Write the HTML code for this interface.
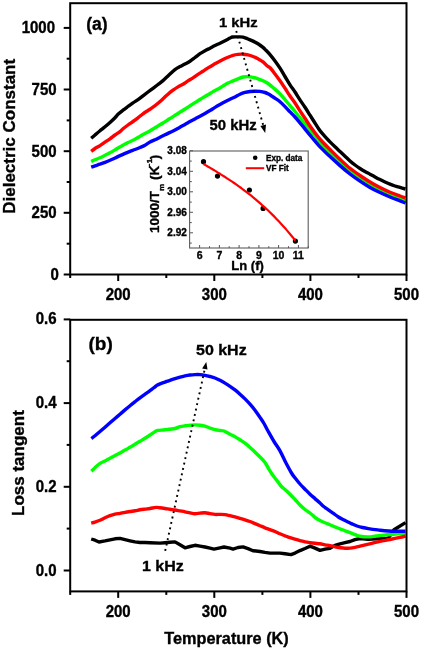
<!DOCTYPE html><html><head><meta charset="utf-8"><style>html,body{margin:0;padding:0;background:#fff;}svg{display:block;will-change:transform;}text{font-family:"Liberation Sans",sans-serif;font-weight:bold;fill:#000;stroke:#000;stroke-width:0.35px;}</style></head><body>
<svg width="422" height="650" viewBox="0 0 422 650">
<rect width="422" height="650" fill="#fff"/>
<path d="M91.20,138.20 C91.83,137.67 93.53,136.23 95.00,135.00 C96.47,133.77 98.33,132.17 100.00,130.80 C101.67,129.43 103.33,128.18 105.00,126.80 C106.67,125.42 108.33,124.00 110.00,122.50 C111.67,121.00 113.67,119.17 115.00,117.80 C116.33,116.43 116.67,115.57 118.00,114.30 C119.33,113.03 121.33,111.50 123.00,110.20 C124.67,108.90 126.33,107.72 128.00,106.50 C129.67,105.28 131.33,104.05 133.00,102.90 C134.67,101.75 136.33,100.78 138.00,99.60 C139.67,98.42 141.33,97.07 143.00,95.80 C144.67,94.53 146.33,93.25 148.00,92.00 C149.67,90.75 151.33,89.55 153.00,88.30 C154.67,87.05 156.33,85.78 158.00,84.50 C159.67,83.22 161.33,82.02 163.00,80.60 C164.67,79.18 166.33,77.55 168.00,76.00 C169.67,74.45 171.67,72.50 173.00,71.30 C174.33,70.10 174.83,69.58 176.00,68.80 C177.17,68.02 178.50,67.40 180.00,66.60 C181.50,65.80 183.33,64.90 185.00,64.00 C186.67,63.10 188.33,62.28 190.00,61.20 C191.67,60.12 193.33,58.75 195.00,57.50 C196.67,56.25 198.33,54.83 200.00,53.70 C201.67,52.57 203.33,51.62 205.00,50.70 C206.67,49.78 208.33,49.05 210.00,48.20 C211.67,47.35 213.33,46.43 215.00,45.60 C216.67,44.77 218.33,44.02 220.00,43.20 C221.67,42.38 223.33,41.55 225.00,40.70 C226.67,39.85 228.75,38.72 230.00,38.10 C231.25,37.48 231.17,37.20 232.50,37.00 C233.83,36.80 236.25,36.88 238.00,36.90 C239.75,36.92 241.33,36.75 243.00,37.10 C244.67,37.45 246.33,38.33 248.00,39.00 C249.67,39.67 251.33,40.30 253.00,41.10 C254.67,41.90 256.33,42.75 258.00,43.80 C259.67,44.85 261.67,46.32 263.00,47.40 C264.33,48.48 264.83,49.10 266.00,50.30 C267.17,51.50 268.50,52.82 270.00,54.60 C271.50,56.38 273.33,58.73 275.00,61.00 C276.67,63.27 278.33,65.62 280.00,68.20 C281.67,70.78 283.33,73.73 285.00,76.50 C286.67,79.27 288.33,82.22 290.00,84.80 C291.67,87.38 293.50,89.73 295.00,92.00 C296.50,94.27 297.33,95.85 299.00,98.40 C300.67,100.95 303.17,104.50 305.00,107.30 C306.83,110.10 308.50,112.83 310.00,115.20 C311.50,117.57 312.53,119.20 314.00,121.50 C315.47,123.80 317.47,127.05 318.80,129.00 C320.13,130.95 320.80,131.77 322.00,133.20 C323.20,134.63 324.67,136.15 326.00,137.60 C327.33,139.05 328.50,140.37 330.00,141.90 C331.50,143.43 333.33,145.20 335.00,146.80 C336.67,148.40 338.33,149.93 340.00,151.50 C341.67,153.07 343.33,154.62 345.00,156.20 C346.67,157.78 348.33,159.53 350.00,161.00 C351.67,162.47 353.33,163.75 355.00,165.00 C356.67,166.25 358.33,167.40 360.00,168.50 C361.67,169.60 363.33,170.65 365.00,171.60 C366.67,172.55 368.33,173.30 370.00,174.20 C371.67,175.10 373.33,176.10 375.00,177.00 C376.67,177.90 378.33,178.77 380.00,179.60 C381.67,180.43 383.33,181.23 385.00,182.00 C386.67,182.77 388.33,183.53 390.00,184.20 C391.67,184.87 393.33,185.47 395.00,186.00 C396.67,186.53 398.25,186.90 400.00,187.40 C401.75,187.90 404.58,188.73 405.50,189.00" fill="none" stroke="#000" stroke-width="3.4" stroke-linejoin="round" stroke-linecap="butt"/>
<path d="M91.20,161.50 C91.83,161.22 93.53,160.42 95.00,159.80 C96.47,159.18 98.33,158.55 100.00,157.80 C101.67,157.05 103.33,156.13 105.00,155.30 C106.67,154.47 108.33,153.70 110.00,152.80 C111.67,151.90 113.67,150.70 115.00,149.90 C116.33,149.10 116.67,148.77 118.00,148.00 C119.33,147.23 121.33,146.20 123.00,145.30 C124.67,144.40 126.33,143.43 128.00,142.60 C129.67,141.77 131.33,141.15 133.00,140.30 C134.67,139.45 136.33,138.45 138.00,137.50 C139.67,136.55 141.33,135.52 143.00,134.60 C144.67,133.68 146.33,132.93 148.00,132.00 C149.67,131.07 151.33,130.00 153.00,129.00 C154.67,128.00 156.33,127.00 158.00,126.00 C159.67,125.00 161.33,124.03 163.00,123.00 C164.67,121.97 166.33,120.87 168.00,119.80 C169.67,118.73 171.33,117.65 173.00,116.60 C174.67,115.55 176.33,114.55 178.00,113.50 C179.67,112.45 181.33,111.37 183.00,110.30 C184.67,109.23 186.33,108.17 188.00,107.10 C189.67,106.03 191.33,104.97 193.00,103.90 C194.67,102.83 196.33,101.75 198.00,100.70 C199.67,99.65 201.33,98.58 203.00,97.60 C204.67,96.62 206.33,95.80 208.00,94.80 C209.67,93.80 211.33,92.58 213.00,91.60 C214.67,90.62 216.33,89.83 218.00,88.90 C219.67,87.97 221.33,86.97 223.00,86.00 C224.67,85.03 226.33,83.95 228.00,83.10 C229.67,82.25 231.33,81.62 233.00,80.90 C234.67,80.18 236.33,79.45 238.00,78.80 C239.67,78.15 241.33,77.37 243.00,77.00 C244.67,76.63 246.33,76.55 248.00,76.60 C249.67,76.65 251.33,76.93 253.00,77.30 C254.67,77.67 256.33,78.22 258.00,78.80 C259.67,79.38 261.33,80.02 263.00,80.80 C264.67,81.58 266.17,82.23 268.00,83.50 C269.83,84.77 272.00,86.67 274.00,88.40 C276.00,90.13 278.17,92.03 280.00,93.90 C281.83,95.77 283.33,97.65 285.00,99.60 C286.67,101.55 288.33,103.62 290.00,105.60 C291.67,107.58 293.50,109.68 295.00,111.50 C296.50,113.32 297.00,114.00 299.00,116.50 C301.00,119.00 304.33,123.25 307.00,126.50 C309.67,129.75 312.17,132.62 315.00,136.00 C317.83,139.38 320.67,143.22 324.00,146.80 C327.33,150.38 330.67,153.38 335.00,157.50 C339.33,161.62 345.83,167.95 350.00,171.50 C354.17,175.05 356.67,176.50 360.00,178.80 C363.33,181.10 366.67,183.38 370.00,185.30 C373.33,187.22 376.67,188.72 380.00,190.30 C383.33,191.88 386.67,193.42 390.00,194.80 C393.33,196.18 397.42,197.60 400.00,198.60 C402.58,199.60 404.58,200.43 405.50,200.80" fill="none" stroke="#00ff00" stroke-width="3.4" stroke-linejoin="round" stroke-linecap="butt"/>
<path d="M91.20,151.30 C91.83,150.83 93.53,149.45 95.00,148.50 C96.47,147.55 98.33,146.65 100.00,145.60 C101.67,144.55 103.33,143.33 105.00,142.20 C106.67,141.07 108.33,140.00 110.00,138.80 C111.67,137.60 113.33,136.20 115.00,135.00 C116.67,133.80 118.67,132.63 120.00,131.60 C121.33,130.57 121.67,129.90 123.00,128.80 C124.33,127.70 126.33,126.22 128.00,125.00 C129.67,123.78 131.33,122.70 133.00,121.50 C134.67,120.30 136.33,119.08 138.00,117.80 C139.67,116.52 141.33,115.02 143.00,113.80 C144.67,112.58 146.33,111.60 148.00,110.50 C149.67,109.40 151.33,108.42 153.00,107.20 C154.67,105.98 156.33,104.60 158.00,103.20 C159.67,101.80 161.33,100.30 163.00,98.80 C164.67,97.30 166.33,95.63 168.00,94.20 C169.67,92.77 171.33,91.42 173.00,90.20 C174.67,88.98 176.33,87.90 178.00,86.90 C179.67,85.90 181.33,85.20 183.00,84.20 C184.67,83.20 186.33,81.97 188.00,80.90 C189.67,79.83 191.33,78.90 193.00,77.80 C194.67,76.70 196.33,75.40 198.00,74.30 C199.67,73.20 201.33,72.27 203.00,71.20 C204.67,70.13 206.33,68.95 208.00,67.90 C209.67,66.85 211.33,65.85 213.00,64.90 C214.67,63.95 216.33,63.10 218.00,62.20 C219.67,61.30 221.33,60.33 223.00,59.50 C224.67,58.67 226.33,57.90 228.00,57.20 C229.67,56.50 231.33,55.77 233.00,55.30 C234.67,54.83 236.33,54.58 238.00,54.40 C239.67,54.22 241.33,54.12 243.00,54.20 C244.67,54.28 246.33,54.52 248.00,54.90 C249.67,55.28 251.33,55.85 253.00,56.50 C254.67,57.15 256.33,57.92 258.00,58.80 C259.67,59.68 261.50,60.63 263.00,61.80 C264.50,62.97 265.83,64.80 267.00,65.80 C268.17,66.80 268.67,66.43 270.00,67.80 C271.33,69.17 273.33,71.83 275.00,74.00 C276.67,76.17 278.33,78.42 280.00,80.80 C281.67,83.18 283.33,85.77 285.00,88.30 C286.67,90.83 288.33,93.55 290.00,96.00 C291.67,98.45 293.50,100.77 295.00,103.00 C296.50,105.23 297.33,106.85 299.00,109.40 C300.67,111.95 303.17,115.53 305.00,118.30 C306.83,121.07 307.83,122.92 310.00,126.00 C312.17,129.08 315.67,133.88 318.00,136.80 C320.33,139.72 322.00,141.38 324.00,143.50 C326.00,145.62 327.33,146.87 330.00,149.50 C332.67,152.13 336.67,156.17 340.00,159.30 C343.33,162.43 346.67,165.60 350.00,168.30 C353.33,171.00 356.67,173.22 360.00,175.50 C363.33,177.78 366.67,179.98 370.00,182.00 C373.33,184.02 376.67,185.88 380.00,187.60 C383.33,189.32 386.67,190.90 390.00,192.30 C393.33,193.70 397.42,195.08 400.00,196.00 C402.58,196.92 404.58,197.50 405.50,197.80" fill="none" stroke="#ff0000" stroke-width="3.4" stroke-linejoin="round" stroke-linecap="butt"/>
<path d="M91.20,167.20 C91.83,166.97 93.53,166.30 95.00,165.80 C96.47,165.30 98.33,164.77 100.00,164.20 C101.67,163.63 103.33,163.05 105.00,162.40 C106.67,161.75 108.33,161.03 110.00,160.30 C111.67,159.57 113.33,158.78 115.00,158.00 C116.67,157.22 118.33,156.37 120.00,155.60 C121.67,154.83 123.33,154.12 125.00,153.40 C126.67,152.68 128.33,151.95 130.00,151.30 C131.67,150.65 133.33,150.13 135.00,149.50 C136.67,148.87 138.33,148.22 140.00,147.50 C141.67,146.78 143.33,146.12 145.00,145.20 C146.67,144.28 148.33,142.90 150.00,142.00 C151.67,141.10 153.33,140.58 155.00,139.80 C156.67,139.02 158.33,138.13 160.00,137.30 C161.67,136.47 163.33,135.62 165.00,134.80 C166.67,133.98 168.33,133.22 170.00,132.40 C171.67,131.58 173.33,130.77 175.00,129.90 C176.67,129.03 178.33,128.10 180.00,127.20 C181.67,126.30 183.33,125.43 185.00,124.50 C186.67,123.57 188.33,122.53 190.00,121.60 C191.67,120.67 193.33,119.80 195.00,118.90 C196.67,118.00 198.33,117.12 200.00,116.20 C201.67,115.28 203.33,114.35 205.00,113.40 C206.67,112.45 208.33,111.50 210.00,110.50 C211.67,109.50 213.33,108.40 215.00,107.40 C216.67,106.40 218.33,105.43 220.00,104.50 C221.67,103.57 223.33,102.67 225.00,101.80 C226.67,100.93 228.33,100.12 230.00,99.30 C231.67,98.48 233.33,97.75 235.00,96.90 C236.67,96.05 238.33,94.95 240.00,94.20 C241.67,93.45 243.33,92.85 245.00,92.40 C246.67,91.95 248.33,91.70 250.00,91.50 C251.67,91.30 253.33,91.22 255.00,91.20 C256.67,91.18 258.33,91.18 260.00,91.40 C261.67,91.62 263.67,92.10 265.00,92.50 C266.33,92.90 266.83,93.18 268.00,93.80 C269.17,94.42 270.67,95.37 272.00,96.20 C273.33,97.03 274.67,97.87 276.00,98.80 C277.33,99.73 278.50,100.50 280.00,101.80 C281.50,103.10 283.33,104.92 285.00,106.60 C286.67,108.28 288.33,110.17 290.00,111.90 C291.67,113.63 293.33,115.18 295.00,117.00 C296.67,118.82 297.17,119.38 300.00,122.80 C302.83,126.22 308.67,133.50 312.00,137.50 C315.33,141.50 317.00,143.63 320.00,146.80 C323.00,149.97 326.67,153.37 330.00,156.50 C333.33,159.63 336.67,162.68 340.00,165.60 C343.33,168.52 346.67,171.40 350.00,174.00 C353.33,176.60 356.67,178.95 360.00,181.20 C363.33,183.45 366.67,185.62 370.00,187.50 C373.33,189.38 376.67,190.92 380.00,192.50 C383.33,194.08 386.67,195.60 390.00,197.00 C393.33,198.40 397.42,199.90 400.00,200.90 C402.58,201.90 404.58,202.65 405.50,203.00" fill="none" stroke="#0000ff" stroke-width="3.4" stroke-linejoin="round" stroke-linecap="butt"/>
<polyline points="91.2,539.0 95.0,540.2 99.0,542.0 105.0,540.9 110.0,539.8 115.0,538.8 120.0,538.4 125.0,539.6 130.0,540.8 135.0,541.9 140.0,542.5 145.0,542.5 150.0,542.7 160.0,543.1 165.0,542.7 170.0,542.3 175.0,541.9 180.0,544.8 185.0,547.8 190.0,546.5 195.0,545.3 200.0,546.1 205.0,547.0 210.0,548.2 214.0,549.1 220.0,547.8 224.0,547.0 230.0,548.2 233.0,549.1 238.0,547.5 243.0,546.9 248.0,548.6 253.0,550.7 260.0,551.5 265.0,552.4 270.0,553.1 280.0,553.1 285.0,553.8 291.0,554.6 295.0,553.1 300.0,550.6 305.0,548.5 310.0,546.2 315.0,548.1 320.0,550.4 325.0,549.2 330.0,548.3 335.0,545.4 340.0,543.8 345.0,542.7 350.0,541.5 355.0,539.6 360.0,538.5 368.3,539.3 380.0,538.5 388.4,538.1 394.0,529.8 405.5,522.6" fill="none" stroke="#000" stroke-width="3.4" stroke-linejoin="round" stroke-linecap="butt"/>
<path d="M91.40,471.20 C92.00,470.62 93.57,469.00 95.00,467.70 C96.43,466.40 98.33,464.53 100.00,463.40 C101.67,462.27 103.33,461.75 105.00,460.90 C106.67,460.05 108.33,459.18 110.00,458.30 C111.67,457.42 113.33,456.50 115.00,455.60 C116.67,454.70 118.33,453.82 120.00,452.90 C121.67,451.98 123.33,451.05 125.00,450.10 C126.67,449.15 128.33,448.17 130.00,447.20 C131.67,446.23 133.33,445.28 135.00,444.30 C136.67,443.32 138.33,442.32 140.00,441.30 C141.67,440.28 143.33,439.25 145.00,438.20 C146.67,437.15 148.33,436.10 150.00,435.00 C151.67,433.90 153.75,432.37 155.00,431.60 C156.25,430.83 155.83,430.70 157.50,430.40 C159.17,430.10 162.08,430.12 165.00,429.80 C167.92,429.48 172.50,429.02 175.00,428.50 C177.50,427.98 178.33,427.15 180.00,426.70 C181.67,426.25 183.33,426.03 185.00,425.80 C186.67,425.57 188.33,425.45 190.00,425.30 C191.67,425.15 193.33,424.90 195.00,424.90 C196.67,424.90 198.33,425.08 200.00,425.30 C201.67,425.52 203.33,425.75 205.00,426.20 C206.67,426.65 208.33,427.43 210.00,428.00 C211.67,428.57 213.33,429.18 215.00,429.60 C216.67,430.02 218.50,430.27 220.00,430.50 C221.50,430.73 222.33,430.38 224.00,431.00 C225.67,431.62 228.17,433.25 230.00,434.20 C231.83,435.15 233.33,435.77 235.00,436.70 C236.67,437.63 238.33,438.72 240.00,439.80 C241.67,440.88 243.33,441.93 245.00,443.20 C246.67,444.47 248.33,445.92 250.00,447.40 C251.67,448.88 253.33,450.50 255.00,452.10 C256.67,453.70 258.33,455.28 260.00,457.00 C261.67,458.72 263.50,460.35 265.00,462.40 C266.50,464.45 267.67,467.12 269.00,469.30 C270.33,471.48 271.50,473.40 273.00,475.50 C274.50,477.60 276.58,480.07 278.00,481.90 C279.42,483.73 280.33,485.23 281.50,486.50 C282.67,487.77 283.58,488.22 285.00,489.50 C286.42,490.78 288.33,492.53 290.00,494.20 C291.67,495.87 293.33,497.70 295.00,499.50 C296.67,501.30 298.33,503.33 300.00,505.00 C301.67,506.67 303.33,508.17 305.00,509.50 C306.67,510.83 308.33,511.70 310.00,513.00 C311.67,514.30 313.33,516.03 315.00,517.30 C316.67,518.57 318.33,519.68 320.00,520.60 C321.67,521.52 323.33,522.10 325.00,522.80 C326.67,523.50 328.33,524.12 330.00,524.80 C331.67,525.48 333.33,526.23 335.00,526.90 C336.67,527.57 338.33,528.15 340.00,528.80 C341.67,529.45 343.33,530.15 345.00,530.80 C346.67,531.45 348.33,532.07 350.00,532.70 C351.67,533.33 353.33,534.00 355.00,534.60 C356.67,535.20 357.78,535.92 360.00,536.30 C362.22,536.68 365.63,536.95 368.30,536.90 C370.97,536.85 373.43,536.30 376.00,536.00 C378.57,535.70 380.45,535.43 383.70,535.10 C386.95,534.77 391.87,534.28 395.50,534.00 C399.13,533.72 403.83,533.50 405.50,533.40" fill="none" stroke="#00ff00" stroke-width="3.4" stroke-linejoin="round" stroke-linecap="butt"/>
<path d="M91.20,523.10 C91.83,522.93 93.53,522.57 95.00,522.10 C96.47,521.63 98.33,521.02 100.00,520.30 C101.67,519.58 103.33,518.57 105.00,517.80 C106.67,517.03 108.33,516.30 110.00,515.70 C111.67,515.10 113.33,514.60 115.00,514.20 C116.67,513.80 118.33,513.62 120.00,513.30 C121.67,512.98 123.33,512.60 125.00,512.30 C126.67,512.00 128.33,511.75 130.00,511.50 C131.67,511.25 133.33,511.08 135.00,510.80 C136.67,510.52 138.33,510.08 140.00,509.80 C141.67,509.52 143.33,509.32 145.00,509.10 C146.67,508.88 148.17,508.78 150.00,508.50 C151.83,508.22 154.33,507.52 156.00,507.40 C157.67,507.28 158.50,507.62 160.00,507.80 C161.50,507.98 163.33,508.25 165.00,508.50 C166.67,508.75 168.33,509.05 170.00,509.30 C171.67,509.55 173.33,509.73 175.00,510.00 C176.67,510.27 178.33,510.60 180.00,510.90 C181.67,511.20 183.33,511.47 185.00,511.80 C186.67,512.13 188.33,512.58 190.00,512.90 C191.67,513.22 193.33,513.67 195.00,513.70 C196.67,513.73 198.33,513.27 200.00,513.10 C201.67,512.93 203.33,512.62 205.00,512.70 C206.67,512.78 208.33,513.32 210.00,513.60 C211.67,513.88 213.33,514.27 215.00,514.40 C216.67,514.53 218.33,514.37 220.00,514.40 C221.67,514.43 223.33,514.38 225.00,514.60 C226.67,514.82 228.33,515.32 230.00,515.70 C231.67,516.08 233.33,516.47 235.00,516.90 C236.67,517.33 238.33,517.82 240.00,518.30 C241.67,518.78 243.33,519.27 245.00,519.80 C246.67,520.33 248.33,520.87 250.00,521.50 C251.67,522.13 253.33,522.90 255.00,523.60 C256.67,524.30 258.33,525.00 260.00,525.70 C261.67,526.40 263.33,527.15 265.00,527.80 C266.67,528.45 268.33,528.98 270.00,529.60 C271.67,530.22 273.33,530.80 275.00,531.50 C276.67,532.20 278.33,533.08 280.00,533.80 C281.67,534.52 283.33,535.15 285.00,535.80 C286.67,536.45 288.33,537.13 290.00,537.70 C291.67,538.27 293.33,538.72 295.00,539.20 C296.67,539.68 298.33,540.15 300.00,540.60 C301.67,541.05 303.33,541.55 305.00,541.90 C306.67,542.25 308.33,542.47 310.00,542.70 C311.67,542.93 313.33,543.12 315.00,543.30 C316.67,543.48 318.33,543.55 320.00,543.80 C321.67,544.05 323.33,544.50 325.00,544.80 C326.67,545.10 328.33,545.27 330.00,545.60 C331.67,545.93 333.33,546.45 335.00,546.80 C336.67,547.15 338.33,547.45 340.00,547.70 C341.67,547.95 343.33,548.23 345.00,548.30 C346.67,548.37 348.33,548.27 350.00,548.10 C351.67,547.93 353.33,547.62 355.00,547.30 C356.67,546.98 357.20,546.85 360.00,546.20 C362.80,545.55 368.47,544.22 371.80,543.40 C375.13,542.58 376.97,541.95 380.00,541.30 C383.03,540.65 386.67,540.15 390.00,539.50 C393.33,538.85 397.42,537.98 400.00,537.40 C402.58,536.82 404.58,536.23 405.50,536.00" fill="none" stroke="#ff0000" stroke-width="3.4" stroke-linejoin="round" stroke-linecap="butt"/>
<path d="M91.40,438.60 C92.00,438.12 93.57,436.88 95.00,435.70 C96.43,434.52 98.33,432.92 100.00,431.50 C101.67,430.08 103.33,428.65 105.00,427.20 C106.67,425.75 108.33,424.25 110.00,422.80 C111.67,421.35 113.33,419.93 115.00,418.50 C116.67,417.07 118.33,415.63 120.00,414.20 C121.67,412.77 123.33,411.32 125.00,409.90 C126.67,408.48 128.33,407.07 130.00,405.70 C131.67,404.33 133.33,403.02 135.00,401.70 C136.67,400.38 138.33,399.05 140.00,397.80 C141.67,396.55 143.33,395.38 145.00,394.20 C146.67,393.02 148.33,391.93 150.00,390.70 C151.67,389.47 153.83,387.70 155.00,386.80 C156.17,385.90 156.17,385.78 157.00,385.30 C157.83,384.82 158.67,384.43 160.00,383.90 C161.33,383.37 163.33,382.70 165.00,382.10 C166.67,381.50 168.33,380.88 170.00,380.30 C171.67,379.72 173.33,379.12 175.00,378.60 C176.67,378.08 178.33,377.65 180.00,377.20 C181.67,376.75 183.33,376.27 185.00,375.90 C186.67,375.53 188.33,375.22 190.00,375.00 C191.67,374.78 193.33,374.67 195.00,374.60 C196.67,374.53 198.33,374.48 200.00,374.60 C201.67,374.72 203.33,374.98 205.00,375.30 C206.67,375.62 208.33,376.05 210.00,376.50 C211.67,376.95 213.33,377.37 215.00,378.00 C216.67,378.63 218.33,379.45 220.00,380.30 C221.67,381.15 223.33,382.10 225.00,383.10 C226.67,384.10 228.33,385.17 230.00,386.30 C231.67,387.43 233.33,388.58 235.00,389.90 C236.67,391.22 238.33,392.70 240.00,394.20 C241.67,395.70 243.33,397.23 245.00,398.90 C246.67,400.57 248.33,402.30 250.00,404.20 C251.67,406.10 253.33,408.10 255.00,410.30 C256.67,412.50 258.50,415.20 260.00,417.40 C261.50,419.60 262.67,421.23 264.00,423.50 C265.33,425.77 266.33,428.00 268.00,431.00 C269.67,434.00 272.00,438.20 274.00,441.50 C276.00,444.80 278.08,447.38 280.00,450.80 C281.92,454.22 283.58,458.30 285.50,462.00 C287.42,465.70 289.92,470.37 291.50,473.00 C293.08,475.63 293.58,475.97 295.00,477.80 C296.42,479.63 298.33,482.10 300.00,484.00 C301.67,485.90 303.33,487.50 305.00,489.20 C306.67,490.90 308.33,492.63 310.00,494.20 C311.67,495.77 313.33,497.13 315.00,498.60 C316.67,500.07 318.67,501.77 320.00,503.00 C321.33,504.23 321.67,504.90 323.00,506.00 C324.33,507.10 326.33,508.42 328.00,509.60 C329.67,510.78 331.33,511.92 333.00,513.10 C334.67,514.28 336.33,515.63 338.00,516.70 C339.67,517.77 341.33,518.62 343.00,519.50 C344.67,520.38 346.50,521.27 348.00,522.00 C349.50,522.73 350.50,523.23 352.00,523.90 C353.50,524.57 355.23,525.40 357.00,526.00 C358.77,526.60 360.72,527.07 362.60,527.50 C364.48,527.93 365.77,528.20 368.30,528.60 C370.83,529.00 374.45,529.50 377.80,529.90 C381.15,530.30 383.78,530.77 388.40,531.00 C393.02,531.23 402.65,531.25 405.50,531.30" fill="none" stroke="#0000ff" stroke-width="3.4" stroke-linejoin="round" stroke-linecap="butt"/>
<rect x="70.2" y="3.2" width="336.3" height="271.3" fill="none" stroke="#000" stroke-width="2"/>
<line x1="118.2" y1="274.5" x2="118.2" y2="281.0" stroke="#000" stroke-width="2"/>
<line x1="214.3" y1="274.5" x2="214.3" y2="281.0" stroke="#000" stroke-width="2"/>
<line x1="310.4" y1="274.5" x2="310.4" y2="281.0" stroke="#000" stroke-width="2"/>
<line x1="406.5" y1="274.5" x2="406.5" y2="281.0" stroke="#000" stroke-width="2"/>
<line x1="70.2" y1="274.5" x2="70.2" y2="278.0" stroke="#000" stroke-width="2"/>
<line x1="166.3" y1="274.5" x2="166.3" y2="278.0" stroke="#000" stroke-width="2"/>
<line x1="262.4" y1="274.5" x2="262.4" y2="278.0" stroke="#000" stroke-width="2"/>
<line x1="358.5" y1="274.5" x2="358.5" y2="278.0" stroke="#000" stroke-width="2"/>
<text transform="translate(118.2,300.1) scale(1,1.07)" font-size="15" text-anchor="middle">200</text>
<text transform="translate(214.3,300.1) scale(1,1.07)" font-size="15" text-anchor="middle">300</text>
<text transform="translate(310.4,300.1) scale(1,1.07)" font-size="15" text-anchor="middle">400</text>
<text transform="translate(406.5,300.1) scale(1,1.07)" font-size="15" text-anchor="middle">500</text>
<rect x="70.2" y="319.8" width="336.3" height="271.59999999999997" fill="none" stroke="#000" stroke-width="2"/>
<line x1="118.2" y1="591.4" x2="118.2" y2="597.9" stroke="#000" stroke-width="2"/>
<line x1="214.3" y1="591.4" x2="214.3" y2="597.9" stroke="#000" stroke-width="2"/>
<line x1="310.4" y1="591.4" x2="310.4" y2="597.9" stroke="#000" stroke-width="2"/>
<line x1="406.5" y1="591.4" x2="406.5" y2="597.9" stroke="#000" stroke-width="2"/>
<line x1="70.2" y1="591.4" x2="70.2" y2="594.9" stroke="#000" stroke-width="2"/>
<line x1="166.3" y1="591.4" x2="166.3" y2="594.9" stroke="#000" stroke-width="2"/>
<line x1="262.4" y1="591.4" x2="262.4" y2="594.9" stroke="#000" stroke-width="2"/>
<line x1="358.5" y1="591.4" x2="358.5" y2="594.9" stroke="#000" stroke-width="2"/>
<text transform="translate(118.2,617.0) scale(1,1.07)" font-size="15" text-anchor="middle">200</text>
<text transform="translate(214.3,617.0) scale(1,1.07)" font-size="15" text-anchor="middle">300</text>
<text transform="translate(310.4,617.0) scale(1,1.07)" font-size="15" text-anchor="middle">400</text>
<text transform="translate(406.5,617.0) scale(1,1.07)" font-size="15" text-anchor="middle">500</text>
<line x1="63.7" y1="274.5" x2="70.2" y2="274.5" stroke="#000" stroke-width="2"/>
<text transform="translate(58.8,280.0) scale(1,1.07)" font-size="15" text-anchor="end">0</text>
<line x1="63.7" y1="212.8" x2="70.2" y2="212.8" stroke="#000" stroke-width="2"/>
<text transform="translate(56.6,218.3) scale(1,1.07)" font-size="15" text-anchor="end">250</text>
<line x1="63.7" y1="151.2" x2="70.2" y2="151.2" stroke="#000" stroke-width="2"/>
<text transform="translate(56.6,156.7) scale(1,1.07)" font-size="15" text-anchor="end">500</text>
<line x1="63.7" y1="89.5" x2="70.2" y2="89.5" stroke="#000" stroke-width="2"/>
<text transform="translate(56.6,95.0) scale(1,1.07)" font-size="15" text-anchor="end">750</text>
<line x1="63.7" y1="27.9" x2="70.2" y2="27.9" stroke="#000" stroke-width="2"/>
<text transform="translate(55.0,33.4) scale(1,1.07)" font-size="15" text-anchor="end">1000</text>
<line x1="66.7" y1="243.7" x2="70.2" y2="243.7" stroke="#000" stroke-width="2"/>
<line x1="66.7" y1="182.0" x2="70.2" y2="182.0" stroke="#000" stroke-width="2"/>
<line x1="66.7" y1="120.4" x2="70.2" y2="120.4" stroke="#000" stroke-width="2"/>
<line x1="66.7" y1="58.7" x2="70.2" y2="58.7" stroke="#000" stroke-width="2"/>
<line x1="63.7" y1="570.5" x2="70.2" y2="570.5" stroke="#000" stroke-width="2"/>
<text transform="translate(56.6,575.5) scale(1,1.07)" font-size="15" text-anchor="end">0.0</text>
<line x1="63.7" y1="486.8" x2="70.2" y2="486.8" stroke="#000" stroke-width="2"/>
<text transform="translate(56.6,491.8) scale(1,1.07)" font-size="15" text-anchor="end">0.2</text>
<line x1="63.7" y1="403.1" x2="70.2" y2="403.1" stroke="#000" stroke-width="2"/>
<text transform="translate(56.6,408.1) scale(1,1.07)" font-size="15" text-anchor="end">0.4</text>
<line x1="63.7" y1="319.4" x2="70.2" y2="319.4" stroke="#000" stroke-width="2"/>
<text transform="translate(56.6,324.4) scale(1,1.07)" font-size="15" text-anchor="end">0.6</text>
<line x1="66.7" y1="528.6" x2="70.2" y2="528.6" stroke="#000" stroke-width="2"/>
<line x1="66.7" y1="444.9" x2="70.2" y2="444.9" stroke="#000" stroke-width="2"/>
<line x1="66.7" y1="361.2" x2="70.2" y2="361.2" stroke="#000" stroke-width="2"/>
<text transform="translate(15,136.3) rotate(-90)" font-size="17" text-anchor="middle">Dielectric Constant</text>
<text transform="translate(24.1,463.1) rotate(-90)" font-size="17" text-anchor="middle">Loss tangent</text>
<text x="226.5" y="643.5" font-size="16.3" text-anchor="middle">Temperature (K)</text>
<text x="86.3" y="30.2" font-size="17.5">(a)</text>
<text x="88.5" y="350.2" font-size="19">(b)</text>
<text transform="translate(219,27.1) scale(1,0.92)" font-size="14.8">1 kHz</text>
<text transform="translate(209.5,129.9) scale(1,0.93)" font-size="14.9">50 kHz</text>
<line x1="236.24" y1="30.89" x2="263.16" y2="125.00" stroke="#000" stroke-width="1.9" stroke-dasharray="1.90 3.737"/>
<polygon points="260.4,126.0 266.0,124.4 265.2,133.0" fill="#000"/>
<text transform="translate(196,355.3) scale(1,0.92)" font-size="16">50 kHz</text>
<text transform="translate(142,571.1) scale(1,0.92)" font-size="16">1 kHz</text>
<line x1="165.20" y1="550.83" x2="204.67" y2="369.50" stroke="#000" stroke-width="1.9" stroke-dasharray="1.90 3.626"/>
<polygon points="202.1,368.4 207.5,369.6 206.3,361.9" fill="#000"/>
<rect x="189.6" y="151.0" width="118.6" height="97.0" fill="#fff" stroke="#5c5c5c" stroke-width="1.1"/>
<line x1="190" y1="150.8" x2="193" y2="150.8" stroke="#555" stroke-width="1"/>
<text x="186.8" y="154.4" font-size="10" text-anchor="end">3.08</text>
<line x1="190" y1="171.3" x2="193" y2="171.3" stroke="#555" stroke-width="1"/>
<text x="186.8" y="174.9" font-size="10" text-anchor="end">3.04</text>
<line x1="190" y1="191.8" x2="193" y2="191.8" stroke="#555" stroke-width="1"/>
<text x="186.8" y="195.4" font-size="10" text-anchor="end">3.00</text>
<line x1="190" y1="212.3" x2="193" y2="212.3" stroke="#555" stroke-width="1"/>
<text x="186.8" y="215.9" font-size="10" text-anchor="end">2.96</text>
<line x1="190" y1="232.8" x2="193" y2="232.8" stroke="#555" stroke-width="1"/>
<text x="186.8" y="236.4" font-size="10" text-anchor="end">2.92</text>
<line x1="190" y1="161.1" x2="191.8" y2="161.1" stroke="#555" stroke-width="1"/>
<line x1="190" y1="181.6" x2="191.8" y2="181.6" stroke="#555" stroke-width="1"/>
<line x1="190" y1="202.1" x2="191.8" y2="202.1" stroke="#555" stroke-width="1"/>
<line x1="190" y1="222.6" x2="191.8" y2="222.6" stroke="#555" stroke-width="1"/>
<line x1="190" y1="243.1" x2="191.8" y2="243.1" stroke="#555" stroke-width="1"/>
<line x1="199.6" y1="248" x2="199.6" y2="245" stroke="#555" stroke-width="1"/>
<text x="199.6" y="258.6" font-size="10.5" text-anchor="middle">6</text>
<line x1="219.4" y1="248" x2="219.4" y2="245" stroke="#555" stroke-width="1"/>
<text x="219.4" y="258.6" font-size="10.5" text-anchor="middle">7</text>
<line x1="239.1" y1="248" x2="239.1" y2="245" stroke="#555" stroke-width="1"/>
<text x="239.1" y="258.6" font-size="10.5" text-anchor="middle">8</text>
<line x1="258.9" y1="248" x2="258.9" y2="245" stroke="#555" stroke-width="1"/>
<text x="258.9" y="258.6" font-size="10.5" text-anchor="middle">9</text>
<line x1="278.6" y1="248" x2="278.6" y2="245" stroke="#555" stroke-width="1"/>
<text x="278.6" y="258.6" font-size="10.5" text-anchor="middle">10</text>
<line x1="298.4" y1="248" x2="298.4" y2="245" stroke="#555" stroke-width="1"/>
<text x="298.4" y="258.6" font-size="10.5" text-anchor="middle">11</text>
<line x1="209.5" y1="248" x2="209.5" y2="246.2" stroke="#555" stroke-width="1"/>
<line x1="229.2" y1="248" x2="229.2" y2="246.2" stroke="#555" stroke-width="1"/>
<line x1="249.0" y1="248" x2="249.0" y2="246.2" stroke="#555" stroke-width="1"/>
<line x1="268.8" y1="248" x2="268.8" y2="246.2" stroke="#555" stroke-width="1"/>
<line x1="288.5" y1="248" x2="288.5" y2="246.2" stroke="#555" stroke-width="1"/>
<line x1="308.3" y1="248" x2="308.3" y2="246.2" stroke="#555" stroke-width="1"/>
<text x="247.6" y="270" font-size="13" text-anchor="middle">Ln (f)</text>
<text transform="translate(159.3,233) rotate(-90)" font-size="13.5"><tspan x="0" y="0">1000/T</tspan><tspan x="42.3" y="4.6" font-size="7.5">m</tspan><tspan x="52.9" y="0">(K</tspan><tspan x="65" y="-7.4" font-size="8">−1</tspan><tspan x="73.8" y="0">)</tspan></text>
<circle cx="203.5" cy="161.7" r="2.6" fill="#000"/>
<circle cx="217.5" cy="176.1" r="2.6" fill="#000"/>
<circle cx="249.4" cy="190" r="2.6" fill="#000"/>
<circle cx="263.1" cy="208.4" r="2.6" fill="#000"/>
<circle cx="295.4" cy="241.1" r="2.6" fill="#000"/>
<polyline points="203.5,164.0 205.9,165.4 208.2,166.8 210.6,168.1 212.9,169.5 215.3,170.9 217.6,172.4 220.0,173.8 222.3,175.3 224.7,176.8 227.0,178.3 229.4,179.9 231.7,181.4 234.1,183.0 236.5,184.7 238.8,186.3 241.2,188.0 243.5,189.8 245.9,191.6 248.2,193.4 250.6,195.2 252.9,197.1 255.3,199.1 257.6,201.1 260.0,203.1 262.3,205.2 264.7,207.4 267.1,209.5 269.4,211.8 271.8,214.1 274.1,216.4 276.5,218.9 278.8,221.3 281.2,223.9 283.5,226.5 285.9,229.1 288.2,231.9 290.6,234.7 292.9,237.5 295.3,240.5" fill="none" stroke="#ff0000" stroke-width="2.2" stroke-linejoin="round"/>
<circle cx="255.2" cy="157.8" r="2.3" fill="#000"/>
<line x1="245.8" y1="168.2" x2="264.2" y2="168.2" stroke="#ff0000" stroke-width="2"/>
<text x="266" y="161" font-size="8.2">Exp. data</text>
<text x="266" y="171.3" font-size="8.2">VF Fit</text>
</svg></body></html>
